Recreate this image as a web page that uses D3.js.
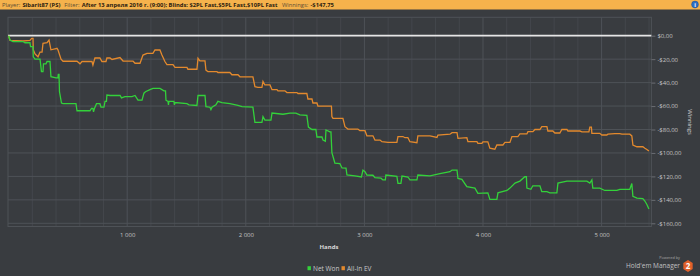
<!DOCTYPE html>
<html><head><meta charset="utf-8">
<script src="https://cdn.jsdelivr.net/npm/d3@7"></script>
<style>
html,body{margin:0;padding:0;background:#393c40;}
svg{display:block;font-family:"Open Sans",sans-serif;}
</style></head>
<body><svg id="c" width="700" height="276"></svg>
<script>
// ---- data ----
const netWonHands = [0,12,37,121,138,180,185,206,208,223,265,277,290,294,315,324,349,357,400,416,419,425,429,446,459,568,577,686,699,711,716,724,741,770,779,804,813,825,829,855,940,952,981,1040,1066,1091,1125,1141,1154,1192,1217,1276,1310,1323,1327,1344,1348,1352,1394,1398,1403,1504,1521,1588,1597,1656,1664,1698,1706,1715,1748,1765,1799,1866,1934,1968,2060,2077,2136,2145,2161,2212,2221,2313,2372,2422,2456,2515,2528,2558,2591,2600,2642,2651,2671,2676,2709,2718,2726,2751,2793,2811,2845,2853,2920,2975,2988,3005,3021,3072,3089,3140,3156,3177,3181,3274,3283,3308,3317,3367,3384,3443,3451,3553,3637,3722,3739,3781,3789,3822,3864,3932,3957,4041,4058,4117,4126,4202,4227,4270,4311,4353,4366,4370,4404,4420,4480,4496,4539,4564,4623,4632,4708,4876,4901,4918,4926,4985,5027,5129,5154,5238,5255,5264,5298,5348,5365,5382,5399];
const netWonValues = [0,-3.7,-5,-5,-6,-6,-9.4,-9.4,-18,-20,-20,-30.7,-30.7,-24,-24,-22,-22,-35,-36,-36,-33,-33,-47.8,-57.4,-58,-58,-64,-64,-62,-62,-65,-62,-58,-58,-61,-61,-56,-56,-50.6,-51,-51,-53,-52,-52,-51,-55,-55,-49,-47.8,-46,-45,-45,-47,-47,-55,-56,-59,-56,-56,-59,-57,-58,-59,-59.5,-51,-51,-60.5,-61,-63,-61,-59,-56,-57,-58,-59.5,-60.5,-61,-74,-74,-69,-72,-72,-66,-67,-66,-66,-67.6,-68,-78,-80,-80,-86.4,-86.4,-89,-90,-80.4,-82,-82,-99.8,-108.6,-109,-112.8,-113,-118.8,-119.5,-120.5,-114.6,-116,-118.8,-119,-121,-121.5,-123,-123,-118.8,-120,-126,-126,-119.7,-120.5,-123,-123,-118.8,-119.5,-117.7,-116,-114.6,-114.6,-121.7,-122.5,-128.8,-130,-134.5,-134,-139.6,-139.6,-134,-132,-130,-125.7,-124,-120.3,-120.3,-130,-131,-128,-128,-133,-133,-134,-134,-125.7,-124,-124,-125.7,-123,-130,-130,-132,-132,-131,-131,-126,-137,-138.6,-139,-141,-144,-147.75];

const allInHands = [0,12,121,180,195,206,208,223,248,265,282,290,324,341,357,400,408,416,442,459,577,602,619,703,711,728,770,787,821,829,855,872,939,965,1049,1066,1108,1133,1167,1217,1234,1276,1293,1318,1335,1386,1403,1504,1512,1588,1597,1613,1656,1664,1681,1757,1765,1866,1883,1934,1951,2060,2077,2102,2136,2145,2161,2204,2221,2263,2271,2330,2347,2431,2440,2515,2524,2558,2566,2600,2608,2709,2722,2726,2735,2819,2836,2861,2945,2962,3005,3021,3072,3089,3132,3148,3199,3274,3283,3325,3342,3367,3384,3443,3451,3553,3612,3620,3722,3739,3781,3789,3864,3873,3949,3957,3991,3999,4041,4058,4100,4117,4168,4185,4227,4244,4294,4311,4370,4379,4421,4438,4480,4496,4539,4547,4589,4606,4648,4665,4708,4716,4817,4834,4893,4901,4914,4918,4985,5002,5044,5053,5112,5154,5171,5238,5255,5264,5298,5348,5365,5382,5399];
const allInValues = [0,-4,-4.5,-4,-2.3,-2.3,-12,-15.6,-18,-14,-14,-6.5,-6,-3.7,-12,-11,-10.8,-12,-20,-21.8,-21.8,-24,-22,-22,-25,-19,-19,-22,-22,-19,-19,-20.3,-18.6,-21.6,-21.6,-23.5,-23.5,-16.5,-15,-15,-12.2,-12.2,-16.5,-22,-24.6,-24.6,-27,-27,-28.6,-28.6,-19.3,-21.5,-21.5,-29.3,-30.7,-30.7,-31.4,-31.4,-33.3,-33.3,-35,-35.2,-43.5,-44,-44,-39,-42,-42,-46,-46,-47,-47,-48.5,-48.5,-49.3,-49.3,-54,-54,-57.4,-57.4,-60,-60,-60,-69,-70.5,-70.5,-77.6,-79.6,-79.6,-81,-81,-85.4,-85.4,-89,-89,-90.4,-91,-91,-86,-86,-87,-87,-90.4,-91.3,-85.5,-85.5,-86.8,-84.7,-84,-82.7,-82.7,-87.5,-87,-90.3,-90.3,-91.8,-91.8,-90.5,-90.5,-96,-96.8,-93.2,-93.2,-91,-91,-86,-86,-83.8,-83.8,-81.8,-81.8,-80,-80,-77.6,-77.6,-81.3,-81.3,-83,-83,-80,-80,-81.3,-81.3,-82,-82,-78,-78,-83.3,-83.3,-84.7,-84.7,-84,-83.6,-83.6,-84,-84,-85.5,-93.2,-94.7,-94.7,-96,-97,-98.4];

const yTicks = [0,-20,-40,-60,-80,-100,-120,-140,-160];
const xTicks = [1000,2000,3000,4000,5000];
const seriesNames = ["Net Won","All-In EV"];
const headerParts = [
  ["Player:", false], ["Sibarit87 (PS)", true], ["Filter:", false],
  ["After 13 апреля 2016 г. (9:00); Blinds: $2PL Fast,$5PL Fast,$10PL Fast", true],
  ["Winnings:", false], ["-$147,75", true]
];

// ---- layout ----
const svg = d3.select("#c");
const W = 700, H = 276;
const plotTop = 17.3, plotBottom = 226.5;
const x = d3.scaleLinear().domain([0, 5420]).range([8.6, 651.4]);
const y = d3.scaleLinear().domain([-160, 0]).range([223.3, 35.7]);
const green = "#33d13a", orange = "#e3892d";

svg.append("rect").attr("width", W).attr("height", H).attr("fill", "#393c40");

// header: parts laid out one after another, then scaled to the reference width
svg.append("rect").attr("width", W).attr("height", 9.5).attr("fill", "#f5b24c");
const hg = svg.append("g");
let cx = 0;
headerParts.forEach(([t, b], i) => {
  const te = hg.append("text").attr("x", cx).attr("y", 0).attr("font-size", 6)
    .attr("font-weight", b ? 700 : 400).attr("fill", b ? "#2a2010" : "#5e4e34").text(t);
  cx += te.node().getComputedTextLength() + (b ? 4 : 2.2);
});
const total = cx - 4;
const sc = 332 / total;
hg.attr("transform", `translate(2,6.6) scale(${sc},1)`);
svg.append("circle").attr("cx", 695).attr("cy", 4.5).attr("r", 3.4).attr("fill", "#2d6fc4").attr("stroke", "#1b4d90").attr("stroke-width", 0.5);
svg.append("text").attr("x", 695).attr("y", 6.6).attr("text-anchor", "middle").attr("font-size", 5.5).attr("font-weight", 700).attr("fill", "#fff").text("i");

// grid
const g = svg.append("g");
const vTicks = d3.range(200, 5420, 200);
g.selectAll("line.v").data(vTicks).join("line")
  .attr("x1", d => x(d)).attr("x2", d => x(d)).attr("y1", plotTop).attr("y2", plotBottom)
  .attr("stroke", d => d % 1000 === 0 ? "#4e5257" : "#44474c").attr("stroke-width", 1);
g.selectAll("line.h").data(yTicks).join("line")
  .attr("x1", x(0) - 0.6).attr("x2", x(5420)).attr("y1", d => y(d)).attr("y2", d => y(d))
  .attr("stroke", "#4e5257").attr("stroke-width", 1);
g.append("rect").attr("x", x(0) - 0.6).attr("y", plotTop).attr("width", x(5420) - x(0) + 0.6).attr("height", plotBottom - plotTop)
  .attr("fill", "none").attr("stroke", "#4e5257").attr("stroke-width", 1);

// zero line
svg.append("line").attr("x1", x(0) - 0.6).attr("x2", x(5420)).attr("y1", y(0)).attr("y2", y(0))
  .attr("stroke", "#e6e6e6").attr("stroke-width", 1.8);

// lines
const line = d3.line().x(d => x(d[0])).y(d => y(d[1]));
const allIn = allInHands.map((h, i) => [h, allInValues[i]]);
const netWon = netWonHands.map((h, i) => [h, netWonValues[i]]);
svg.append("path").datum(allIn).attr("d", line).attr("fill", "none").attr("stroke", orange).attr("stroke-width", 1.3);
svg.append("path").datum(netWon).attr("d", line).attr("fill", "none").attr("stroke", green).attr("stroke-width", 1.3);

// right axis
const fmt = v => (v < 0 ? "-" : "") + "$" + Math.abs(v).toFixed(2).replace(".", ",");
const yAxis = d3.axisRight(y).tickValues(yTicks).tickSize(4).tickFormat(fmt);
const ya = svg.append("g").attr("transform", `translate(${x(5420)},0)`).call(yAxis);
ya.select(".domain").remove();
ya.selectAll(".tick line").attr("stroke", "#6a6d72");
ya.selectAll(".tick text").attr("font-size", 6).attr("fill", "#c4c4c4").attr("font-family", "Open Sans").attr("x", 6);

svg.append("text").attr("transform", `translate(688,122) rotate(90)`).attr("text-anchor", "middle")
  .attr("font-size", 6).attr("fill", "#d0d0d0").text("Winnings");

// bottom axis
const xAxis = d3.axisBottom(x).tickValues(xTicks).tickSize(0).tickFormat(d => d3.format(",")(d).replace(",", " "));
const xa = svg.append("g").attr("transform", `translate(0,${plotBottom})`).call(xAxis);
xa.select(".domain").remove();
xa.selectAll(".tick text").attr("font-size", 6).attr("fill", "#c4c4c4").attr("font-family", "Open Sans").attr("y", 6);

svg.append("text").attr("x", 329).attr("y", 249).attr("text-anchor", "middle").attr("font-size", 6).attr("font-weight", 700)
  .attr("fill", "#d8d8d8").text("Hands");

// legend
const lg = svg.append("g");
const legX = [307.5, 341.5];
seriesNames.forEach((n, i) => {
  lg.append("rect").attr("x", legX[i]).attr("y", 266.2).attr("width", 3.4).attr("height", 4).attr("fill", i === 0 ? green : orange);
  lg.append("text").attr("x", legX[i] + 5.5).attr("y", 270.5).attr("font-size", 6.5).attr("fill", "#c8c8c8").text(n);
});

// logo
svg.append("text").attr("x", 680).attr("y", 259).attr("text-anchor", "end").attr("font-size", 3.8).attr("fill", "#a8a8a8").text("Powered by");
svg.append("text").attr("x", 680).attr("y", 268).attr("text-anchor", "end").attr("font-size", 6.5).attr("fill", "#c0c0c0").text("Hold'em Manager");
const hx = 688, hy = 266, hr = 6;
const hex = d3.range(6).map(k => [hx + hr * Math.cos(Math.PI / 3 * k + Math.PI / 6) * 0.9, hy + hr * Math.sin(Math.PI / 3 * k + Math.PI / 6)]);
svg.append("polygon").attr("points", hex.map(p => p.join(",")).join(" ")).attr("fill", "#e0602a");
svg.append("text").attr("x", hx).attr("y", hy + 3).attr("text-anchor", "middle").attr("font-size", 8).attr("font-weight", 700).attr("fill", "#fff").text("2");
</script></body></html>
